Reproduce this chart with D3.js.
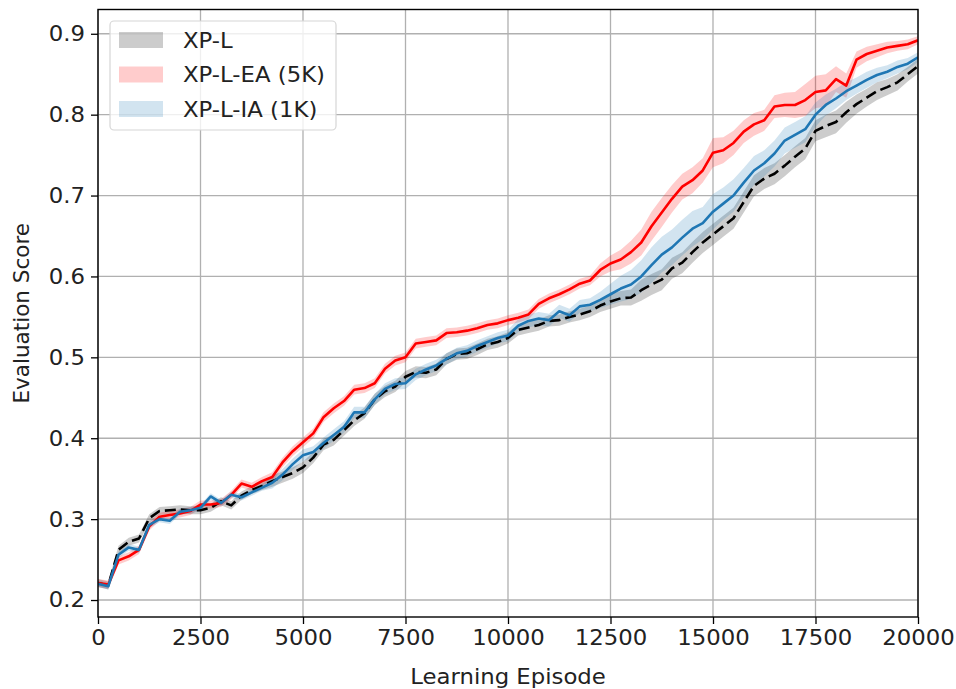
<!DOCTYPE html>
<html><head><meta charset="utf-8">
<script src="https://cdn.jsdelivr.net/npm/d3@7"></script>
<style>body{margin:0;background:#fff} text{font-family:"DejaVu Sans",sans-serif}</style>
</head><body><svg id="c" width="956" height="689"></svg>
<script>
const episodes = [0,250,500,750,1000,1250,1500,1750,2000,2250,2500,2750,3000,3250,3500,3750,4000,4250,4500,4750,5000,5250,5500,5750,6000,6250,6500,6750,7000,7250,7500,7750,8000,8250,8500,8750,9000,9250,9500,9750,10000,10250,10500,10750,11000,11250,11500,11750,12000,12250,12500,12750,13000,13250,13500,13750,14000,14250,14500,14750,15000,15250,15500,15750,16000,16250,16500,16750,17000,17250,17500,17750,18000,18250,18500,18750,19000,19250,19500,19750,20000];

const xpL = [0.221,0.218,0.262,0.272,0.276,0.301,0.310,0.311,0.312,0.311,0.311,0.314,0.322,0.317,0.329,0.336,0.341,0.347,0.352,0.357,0.364,0.376,0.392,0.398,0.410,0.422,0.431,0.448,0.458,0.464,0.476,0.482,0.481,0.485,0.498,0.504,0.505,0.510,0.516,0.519,0.524,0.534,0.537,0.540,0.545,0.546,0.550,0.553,0.557,0.564,0.569,0.573,0.574,0.583,0.590,0.596,0.610,0.617,0.630,0.642,0.652,0.662,0.672,0.692,0.712,0.721,0.727,0.737,0.748,0.758,0.780,0.786,0.791,0.803,0.813,0.821,0.829,0.834,0.840,0.850,0.860];
const xpLBand = [0.005,0.005,0.005,0.005,0.005,0.005,0.005,0.005,0.005,0.005,0.005,0.005,0.005,0.005,0.005,0.005,0.005,0.007,0.007,0.007,0.007,0.007,0.007,0.007,0.007,0.007,0.007,0.007,0.007,0.007,0.007,0.007,0.007,0.007,0.007,0.007,0.007,0.007,0.007,0.007,0.007,0.007,0.007,0.007,0.007,0.007,0.007,0.007,0.007,0.008,0.009,0.009,0.010,0.013,0.013,0.013,0.013,0.013,0.013,0.013,0.013,0.013,0.013,0.013,0.013,0.013,0.013,0.013,0.013,0.013,0.013,0.014,0.014,0.013,0.012,0.011,0.011,0.010,0.010,0.009,0.009];

const xpLEA = [0.221,0.219,0.249,0.254,0.262,0.291,0.303,0.305,0.307,0.310,0.318,0.318,0.320,0.330,0.344,0.340,0.347,0.352,0.370,0.384,0.395,0.406,0.426,0.437,0.446,0.460,0.462,0.468,0.486,0.496,0.500,0.517,0.519,0.521,0.530,0.531,0.533,0.536,0.540,0.542,0.546,0.549,0.553,0.566,0.573,0.578,0.584,0.591,0.595,0.608,0.616,0.621,0.630,0.642,0.662,0.679,0.696,0.711,0.719,0.731,0.753,0.756,0.765,0.779,0.788,0.793,0.810,0.812,0.812,0.818,0.828,0.830,0.844,0.836,0.868,0.875,0.879,0.883,0.885,0.887,0.892];
const xpLEABand = [0.005,0.005,0.005,0.005,0.005,0.005,0.005,0.005,0.005,0.005,0.005,0.005,0.005,0.005,0.005,0.005,0.005,0.006,0.006,0.006,0.006,0.006,0.006,0.006,0.006,0.006,0.006,0.006,0.006,0.006,0.006,0.006,0.006,0.006,0.006,0.006,0.006,0.006,0.006,0.006,0.006,0.006,0.006,0.006,0.006,0.006,0.006,0.006,0.006,0.008,0.010,0.012,0.014,0.016,0.018,0.018,0.017,0.016,0.016,0.015,0.018,0.016,0.015,0.014,0.014,0.013,0.014,0.015,0.016,0.020,0.020,0.020,0.016,0.015,0.010,0.009,0.008,0.007,0.006,0.006,0.005];

const xpLIA = [0.220,0.217,0.256,0.265,0.262,0.293,0.300,0.298,0.309,0.311,0.314,0.328,0.320,0.330,0.327,0.333,0.339,0.345,0.355,0.368,0.379,0.383,0.394,0.404,0.414,0.432,0.432,0.448,0.461,0.467,0.468,0.479,0.485,0.490,0.498,0.505,0.508,0.514,0.519,0.524,0.527,0.539,0.545,0.548,0.546,0.557,0.552,0.563,0.565,0.571,0.578,0.585,0.590,0.600,0.614,0.627,0.636,0.648,0.659,0.666,0.680,0.690,0.700,0.716,0.731,0.740,0.752,0.768,0.775,0.782,0.800,0.812,0.820,0.829,0.836,0.843,0.849,0.853,0.859,0.863,0.871];
const xpLIABand = [0.004,0.004,0.004,0.004,0.004,0.004,0.004,0.004,0.004,0.004,0.004,0.004,0.004,0.004,0.004,0.004,0.004,0.007,0.007,0.007,0.007,0.007,0.007,0.007,0.007,0.007,0.007,0.007,0.007,0.007,0.007,0.007,0.007,0.007,0.007,0.007,0.007,0.007,0.007,0.007,0.007,0.008,0.008,0.008,0.008,0.008,0.008,0.008,0.008,0.010,0.013,0.016,0.018,0.020,0.022,0.022,0.022,0.022,0.022,0.020,0.022,0.020,0.020,0.018,0.018,0.016,0.016,0.016,0.016,0.016,0.015,0.013,0.012,0.011,0.010,0.010,0.009,0.008,0.008,0.007,0.006];

const xTicks = [0,2500,5000,7500,10000,12500,15000,17500,20000];
const yTicks = [0.2,0.3,0.4,0.5,0.6,0.7,0.8,0.9];
const legendLabels = ["XP-L","XP-L-EA (5K)","XP-L-IA (1K)"];

const svg = d3.select("#c");
const L = 98, R = 918, T = 9.5, B = 617;
const x = d3.scaleLinear().domain([0,20000]).range([L,R]);
const y = d3.scaleLinear().domain([0.179,0.930]).range([B,T]);
const FS = 21.5, SX = 1.06;

// grid
const g = svg.append("g");
g.selectAll(".vg").data(xTicks).join("line")
  .attr("x1",d=>x(d)).attr("x2",d=>x(d)).attr("y1",T).attr("y2",B)
  .attr("stroke","#b0b0b0").attr("stroke-width",1.3);
g.selectAll(".hg").data(yTicks).join("line")
  .attr("x1",L).attr("x2",R).attr("y1",d=>y(d)).attr("y2",d=>y(d))
  .attr("stroke","#b0b0b0").attr("stroke-width",1.3);

const series = [
  {name:legendLabels[0], v:xpL, b:xpLBand, color:"#000000", dash:"11,5"},
  {name:legendLabels[1], v:xpLEA, b:xpLEABand, color:"#ff0000", dash:null},
  {name:legendLabels[2], v:xpLIA, b:xpLIABand, color:"#1f77b4", dash:null}
];
svg.append("clipPath").attr("id","cp").append("rect")
  .attr("x",L).attr("y",T).attr("width",R-L).attr("height",B-T);
const plot = svg.append("g").attr("clip-path","url(#cp)");
const area = d3.area().x((d,i)=>x(episodes[i])).y0(d=>y(d[0]-d[1])).y1(d=>y(d[0]+d[1]));
const line = d3.line().x((d,i)=>x(episodes[i])).y(d=>y(d));
series.forEach(s=>{
  plot.append("path").datum(s.v.map((v,i)=>[v,s.b[i]])).attr("d",area)
    .attr("fill",s.color).attr("fill-opacity",0.2).attr("stroke","none");
});
series.forEach(s=>{
  const p = plot.append("path").datum(s.v).attr("d",line)
    .attr("fill","none").attr("stroke",s.color).attr("stroke-width",2.6)
    .attr("stroke-linejoin","round");
  if (s.dash) p.attr("stroke-dasharray",s.dash);
});

// axes
const xa = svg.append("g").attr("transform",`translate(0,${B})`)
  .call(d3.axisBottom(x).tickValues(xTicks).tickFormat(d3.format("d")).tickSize(7).tickPadding(6));
const ya = svg.append("g").attr("transform",`translate(${L},0)`)
  .call(d3.axisLeft(y).tickValues(yTicks).tickFormat(d3.format(".1f")).tickSize(7).tickPadding(6));
[xa,ya].forEach(a=>{
  a.select(".domain").remove();
  a.selectAll("line").attr("stroke","#000").attr("stroke-width",1.3);
  a.selectAll("text").attr("font-size",FS).attr("fill","#222").attr("font-family","DejaVu Sans");
});
xa.selectAll("text").attr("transform",`scale(${SX},1)`);
ya.selectAll("text").each(function(){
  const t = d3.select(this); const xx = +t.attr("x");
  t.attr("x", xx/SX).attr("transform",`scale(${SX},1)`);
});
svg.append("rect").attr("x",L).attr("y",T).attr("width",R-L).attr("height",B-T)
  .attr("fill","none").attr("stroke","#000").attr("stroke-width",1.4);

svg.append("text").attr("transform",`translate(${(L+R)/2},684) scale(${SX},1)`).attr("text-anchor","middle")
  .attr("font-size",FS).attr("fill","#222").text("Learning Episode");
svg.append("text").attr("transform",`translate(29,${(T+B)/2}) rotate(-90)`)
  .attr("text-anchor","middle").attr("font-size",FS).attr("fill","#222").text("Evaluation Score");

// legend
const lg = svg.append("g");
lg.append("rect").attr("x",110).attr("y",21).attr("width",226).attr("height",109).attr("rx",4)
  .attr("fill","#fff").attr("fill-opacity",0.8).attr("stroke","#d6d6d6").attr("stroke-width",1.2);
series.forEach((s,i)=>{
  const cy = 40 + i*34.5;
  lg.append("rect").attr("x",119).attr("y",cy-8).attr("width",44).attr("height",16)
    .attr("fill",s.color).attr("fill-opacity",0.2);
  lg.append("text").attr("transform",`translate(183,${cy}) scale(${SX},1)`).attr("dy","0.36em")
    .attr("font-size",FS).attr("fill","#222").text(s.name);
});
</script></body></html>
